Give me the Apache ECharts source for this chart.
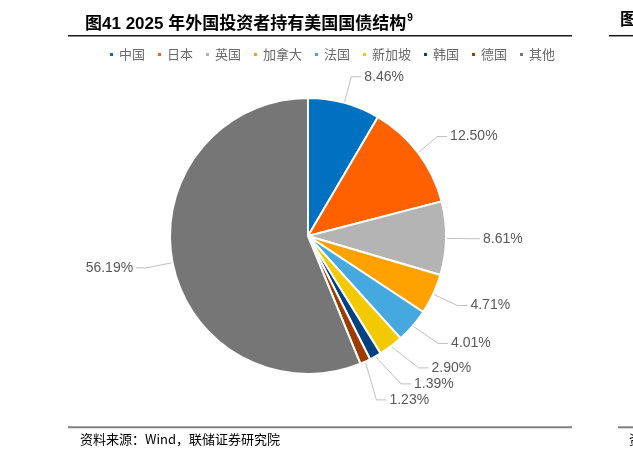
<!DOCTYPE html>
<html><head><meta charset="utf-8">
<script src="https://cdn.jsdelivr.net/npm/echarts@6/dist/echarts.min.js"></script>
<style>html,body{margin:0;padding:0;background:#fff}#c{width:633px;height:458px}</style>
</head><body><div id="c"></div>
<script>
const categories = ['中国','日本','英国','加拿大','法国','新加坡','韩国','德国','其他'];
const shares = [8.46, 12.50, 8.61, 4.71, 4.01, 2.90, 1.39, 1.23, 56.19];
const colors = ['#0070C0','#FF6000','#B4B4B4','#FFA200','#45A9E0','#F3CA00','#00427F','#9E3C00','#767676'];
const titleText = '图41 2025 年外国投资者持有美国国债结构';
const titleSup = '9';
const sourceText = '资料来源：Wind，联储证券研究院';

const chart = echarts.init(document.getElementById('c'), null, {renderer:'canvas'});
const sans = '"Liberation Sans", Arial, "Noto Sans CJK SC", sans-serif';
chart.setOption({
  animation: false,
  color: colors,
  title: {
    text: '{a|' + titleText + '}{s|' + titleSup + '}',
    left: 80, top: 8,
    textStyle: {
      rich: {
        a: {fontSize: 17, fontWeight: 'bold', color: '#000', fontFamily: sans, lineHeight: 22},
        s: {fontSize: 10, fontWeight: 'bold', color: '#000', fontFamily: sans, verticalAlign: 'top', lineHeight: 22, padding:[0,0,0,1]}
      }
    }
  },
  legend: {
    left: 103, top: 43,
    itemWidth: 5, itemHeight: 5, itemGap: 11,
    icon: 'rect',
    data: categories,
    textStyle: {fontSize: 13, color: '#6a6a6a', fontFamily: '"Noto Sans CJK SC", sans-serif'}
  },
  graphic: [
    {type:'line', shape:{x1:68,y1:35.7,x2:572,y2:35.7}, style:{stroke:'#1a1a1a', lineWidth:1.5}},
    {type:'line', shape:{x1:68,y1:427.3,x2:572,y2:427.3}, style:{stroke:'#808080', lineWidth:2}},
    {type:'line', shape:{x1:609,y1:35.7,x2:633,y2:35.7}, style:{stroke:'#1a1a1a', lineWidth:1.5}},
    {type:'line', shape:{x1:618,y1:427.3,x2:633,y2:427.3}, style:{stroke:'#808080', lineWidth:2}},
    {type:'text', left:620, top:10, style:{text:'图', font:'bold 17px "Noto Sans CJK SC"', fill:'#000'}},
    {type:'text', left:629, top:433, style:{text:'资', font:'13px "Noto Sans CJK SC"', fill:'#000'}},
    {type:'text', left:80, top:433, style:{text:sourceText, font:'13px "Noto Sans CJK SC", "Liberation Sans"', fill:'#000'}}
  ],
  series: [{
    type: 'pie',
    center: [308, 236],
    radius: [0, 138],
    startAngle: 90,
    clockwise: true,
    avoidLabelOverlap: true,
    data: categories.map((n,i)=>({name:n, value:shares[i]})),
    itemStyle: {borderColor:'#fff', borderWidth:2},
    label: {
      show: true,
      position: 'outside',
      formatter: p => p.value.toFixed(2) + '%',
      fontSize: 14, color: '#595959', fontFamily: sans,
      distanceToLabelLine: 3
    },
    labelLine: {show:true, length: 27, length2: 10, lineStyle:{color:'#BFBFBF', width:1}},
    emphasis: {disabled: true}
  }]
});
</script></body></html>
